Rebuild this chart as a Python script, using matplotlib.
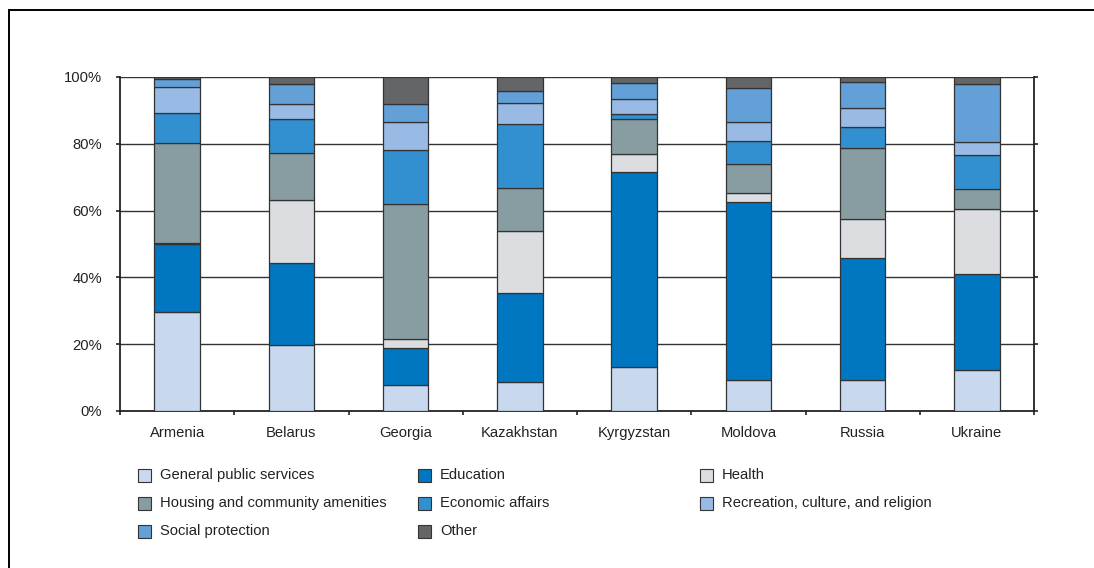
import matplotlib
matplotlib.use("Agg")
import matplotlib.pyplot as plt
from matplotlib.patches import Rectangle
import numpy as np

plt.rcParams['font.family'] = ['Liberation Sans', 'DejaVu Sans']

countries = ["Armenia", "Belarus", "Georgia", "Kazakhstan", "Kyrgyzstan", "Moldova", "Russia", "Ukraine"]
categories = ["General public services", "Education", "Health",
              "Housing and community amenities", "Economic affairs",
              "Recreation, culture, and religion", "Social protection", "Other"]

general_public_services = [29.6, 19.7, 7.9, 8.7, 13.1, 9.4, 9.4, 12.4]
education = [20.3, 24.6, 11.0, 26.7, 58.5, 53.2, 36.5, 28.5]
health = [0.5, 19.0, 2.6, 18.4, 5.3, 2.6, 11.7, 19.5]
housing = [29.9, 13.8, 40.6, 13.1, 10.6, 8.8, 21.0, 6.1]
economic_affairs = [9.0, 10.3, 16.0, 18.9, 1.4, 6.9, 6.3, 10.2]
recreation = [7.7, 4.5, 8.4, 6.4, 4.5, 5.5, 5.9, 3.9]
social_protection = [2.5, 6.1, 5.3, 3.5, 4.7, 10.3, 7.6, 17.4]
other = [0.5, 2.0, 8.2, 4.3, 1.9, 3.3, 1.6, 2.0]

series = [general_public_services, education, health, housing,
          economic_affairs, recreation, social_protection, other]
colors = ["#c8d8ee", "#0077c0", "#dcdde0", "#889da1",
          "#3290d0", "#98bae5", "#62a0d7", "#646567"]

FS = 10.6
fig = plt.figure(figsize=(10.94, 5.68), dpi=100)
ax = fig.add_axes([120/1094, 1-411/568, (1034-120)/1094, (411-77)/568])

x = np.arange(len(countries)) + 0.5
bottom = np.zeros(len(countries))
for vals, col, lab in zip(series, colors, categories):
    v = np.array(vals, dtype=float)
    ax.bar(x, v, width=0.4, bottom=bottom, color=col, edgecolor="#333333",
           linewidth=0.9, label=lab, zorder=3)
    bottom += v

ax.set_xlim(0, len(countries))
ax.set_ylim(0, 100)
ax.set_yticks([0, 20, 40, 60, 80, 100])
ax.set_yticklabels(["0%", "20%", "40%", "60%", "80%", "100%"], fontsize=FS, color="#222222")
ax.set_xticks(np.arange(len(countries) + 1))
ax.set_xticklabels([])
ax.set_xticks(x, minor=True)
ax.set_xticklabels(countries, minor=True, fontsize=FS, color="#222222")
ax.tick_params(axis='x', which='minor', length=0, pad=11)
ax.tick_params(axis='x', which='major', direction='out', length=3, width=1.2, color="#222222")
ax.tick_params(axis='y', which='major', direction='out', length=3, width=1.2, color="#222222",
               right=True, pad=10)
for y in [20, 40, 60, 80, 100]:
    ax.axhline(y, color="#333333", linewidth=1.0, zorder=1)

ax.spines['top'].set_visible(False)
for s in ['left', 'bottom', 'right']:
    ax.spines[s].set_color("#222222")
    ax.spines[s].set_linewidth(1.3)

# legend (manual, three columns)
W, H = 1094, 568
legend_order = [(0, 138, 475), (1, 418, 475), (2, 700, 475),
                (3, 138, 503), (4, 418, 503), (5, 700, 503),
                (6, 138, 531), (7, 418, 531)]
for idx, px, py in legend_order:
    fig.patches.append(Rectangle((px/W, 1-(py+6.5)/H), 13/W, 13/H, transform=fig.transFigure,
                                 facecolor=colors[idx], edgecolor="#333333", linewidth=0.8))
    fig.text((px+22)/W, 1-py/H, categories[idx], fontsize=FS, va='center', ha='left', color="#222222")

# outer frame
fig.patches.append(Rectangle((9/W, -0.1), 1.2, 1.1-10/H, transform=fig.transFigure,
                             facecolor='none', edgecolor='black', linewidth=1.4))

fig.savefig("out.png", dpi=100)
